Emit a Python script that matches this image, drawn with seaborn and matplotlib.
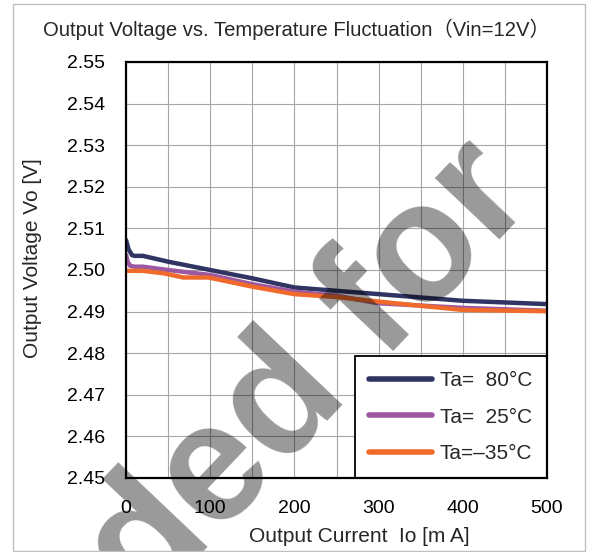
import matplotlib
matplotlib.use("Agg")
import matplotlib.pyplot as plt
import numpy as np
import pandas as pd
import seaborn as sns
from matplotlib.patches import Rectangle

# data (Io in mA, Vo in V)
current_80 = [0, 3, 7, 10, 20, 50, 100, 150, 200, 250, 300, 400, 500]
vout_80 = [2.5072, 2.5050, 2.5036, 2.5034, 2.5034, 2.5020, 2.5000, 2.4980, 2.4958, 2.4950, 2.4942, 2.4926, 2.4918]

current_25 = [0, 2, 5, 10, 20, 50, 100, 150, 200, 250, 300, 400, 500]
vout_25 = [2.5036, 2.5020, 2.5010, 2.5008, 2.5008, 2.5000, 2.4988, 2.4966, 2.4948, 2.4938, 2.4920, 2.4909, 2.4902]

current_m35 = [0, 10, 20, 45, 68, 98, 150, 200, 250, 300, 400, 500]
vout_m35 = [2.4998, 2.4998, 2.4998, 2.4992, 2.4982, 2.4982, 2.4960, 2.4942, 2.4935, 2.4924, 2.4904, 2.4901]

series_labels = ["Ta=  80°C", "Ta=  25°C", "Ta=–35°C"]
series_colors = ["#2f3462", "#9c58a0", "#ef6a2b"]

x_ticks = [0, 100, 200, 300, 400, 500]
y_ticks = [2.45, 2.46, 2.47, 2.48, 2.49, 2.50, 2.51, 2.52, 2.53, 2.54, 2.55]

frames = []
for lab, xs, ys in zip(series_labels, [current_80, current_25, current_m35],
                       [vout_80, vout_25, vout_m35]):
    frames.append(pd.DataFrame({"Io": xs, "Vo": ys, "Ta": lab}))
df = pd.concat(frames, ignore_index=True)

sns.set_theme(style="white")
plt.rcParams["font.family"] = ["Liberation Sans", "Noto Sans CJK JP", "DejaVu Sans"]

fig = plt.figure(figsize=(5.92, 5.52), dpi=100)
ax = fig.add_axes([126 / 592, 1 - 478 / 552, 421 / 592, 416 / 552])

sns.lineplot(data=df, x="Io", y="Vo", hue="Ta", hue_order=series_labels,
             palette=series_colors, estimator=None, sort=False, lw=3.2, ax=ax)

ax.set_xlim(0, 500)
ax.set_ylim(2.45, 2.55)
ax.set_xticks(x_ticks)
ax.set_xticks(np.arange(50, 500, 100), minor=True)
ax.set_yticks(y_ticks)
ax.set_yticklabels([f"{v:.2f}" for v in y_ticks])
ax.grid(True, which="both", color="#a6a6a6", lw=0.8)
ax.tick_params(axis="x", which="both", length=0, pad=16, labelsize=14, colors="black")
ax.tick_params(axis="y", length=0, pad=15, labelsize=14, colors="black")
for sp in ax.spines.values():
    sp.set_color("black")
    sp.set_linewidth(1.6)
    sp.set_zorder(6)

ax.set_xlabel("")
ax.set_ylabel("")
fig.text(359 / 592, 1 - 537 / 552, "Output Current  Io [m A]", ha="center", va="center", fontsize=15)
fig.text(33 / 592, 1 - 258 / 552, "Output Voltage Vo [V]", ha="center", va="center",
         rotation=90, fontsize=15)
fig.text(0.5, 1 - 29 / 552, "Output Voltage vs. Temperature Fluctuation（Vin=12V）",
         ha="center", va="center", fontsize=14.6)

leg = ax.legend(loc="lower right", borderaxespad=0, fontsize=15, handlelength=3.0,
                handletextpad=0.4, labelspacing=0.85, borderpad=0.7, fancybox=False,
                framealpha=1)
leg.get_frame().set_edgecolor("black")
leg.get_frame().set_linewidth(1.3)
leg.set_zorder(5)
for h in leg.get_lines():
    h.set_linewidth(4)

# watermark
ax.text(0.522, 0.318, "ded for", transform=fig.transFigure, rotation=46.5,
        rotation_mode="anchor", ha="center", va="center", fontsize=121,
        fontweight="bold", color="black", alpha=0.4, zorder=4, clip_on=False)

fig.patches.append(Rectangle((13 / 592, 1 - 551 / 552), 572 / 592, 547 / 552,
                             transform=fig.transFigure, fill=False,
                             edgecolor="#bfbfbf", lw=1))

fig.savefig("out.png", dpi=100)
